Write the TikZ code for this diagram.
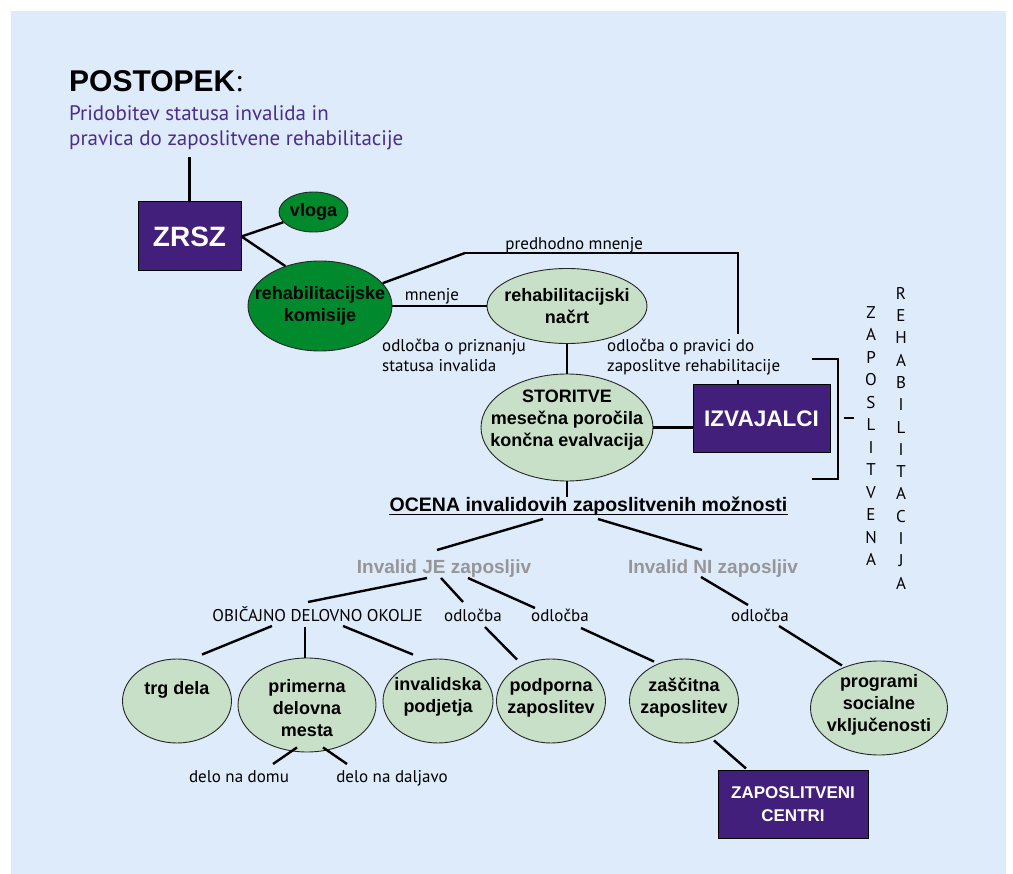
\documentclass[tikz,border=0pt]{standalone}
\usepackage{fontspec}
\setmainfont{PT Sans}
\newfontfamily\heavyfont{Liberation Sans}
\usepackage{tikz}
\usetikzlibrary{shapes.geometric}
\definecolor{bgblue}{RGB}{222,235,251}
\definecolor{dgreen}{RGB}{0,137,45}
\definecolor{lgreen}{RGB}{200,224,200}
\definecolor{boxpurple}{RGB}{66,31,122}
\definecolor{subpurple}{RGB}{75,45,140}
\definecolor{graytxt}{RGB}{150,150,150}
\tikzset{
  lbl/.style={font=\fontsize{17}{20}\selectfont, inner sep=0pt},
  etxt/.style={font=\heavyfont\bfseries\fontsize{18}{22}\selectfont, align=center, inner sep=0pt},
  ell/.style={ellipse, draw=black!85, line width=0.9pt, inner sep=0pt},
  gell/.style={ell, fill=dgreen},
  lell/.style={ell, fill=lgreen},
  box/.style={draw=black, line width=1pt, fill=boxpurple, text=white, align=center, inner sep=0pt},
  gr/.style={anchor=base, inner sep=0pt, text=graytxt, font=\heavyfont\bfseries\fontsize{19}{22}\selectfont},
  cn/.style={line width=2.4pt},
  cnt/.style={line width=1.2pt}
}
\begin{document}
\begin{tikzpicture}[x=1pt, y=-1pt]
  \fill[white] (0,0) rectangle (1013,874);
  \fill[bgblue] (11,11) rectangle (1006,874);
  \useasboundingbox (0,0) rectangle (1013,874);
  % heading
  \node[anchor=base west, inner sep=0pt, font=\fontsize{30}{36}\selectfont] (ttl) at (69,92) {{\heavyfont\bfseries POSTOPEK}:};
  \node[anchor=north west, inner sep=0pt, align=left, text=subpurple, font=\fontsize{21}{25}\selectfont] (sub) at (69,105) {Pridobitev statusa invalida in\\pravica do zaposlitvene rehabilitacije};
  % ZRSZ and commissions
  \node[box, font=\heavyfont\bfseries\fontsize{28}{30}\selectfont, minimum width=103pt, minimum height=69pt] (zrsz) at (189.5,236.5) {ZRSZ};
  \node[gell, minimum width=69pt, minimum height=40pt, label={[etxt]center:vloga}] (vloga) at (313.5,212) {};
  \node[gell, minimum width=144pt, minimum height=90pt, label={[etxt]center:{rehabilitacijske\\komisije}}] (kom) at (320,306) {};
  \node[lell, minimum width=160pt, minimum height=75pt, label={[etxt]center:{rehabilitacijski\\načrt}}] (nac) at (567,306) {};
  \node[lell, minimum width=172pt, minimum height=107pt, label={[etxt, yshift=7pt]center:{STORITVE\\mesečna poročila\\končna evalvacija}}] (sto) at (567,427.5) {};
  \node[box, font=\heavyfont\bfseries\fontsize{22.5}{26}\selectfont, minimum width=137pt, minimum height=68pt] (izv) at (761.5,419) {IZVAJALCI};
  \node[lbl, anchor=north west, align=left, inner ysep=5pt] (odpr) at (382,334) {odločba o priznanju\\statusa invalida};
  \node[lbl, anchor=north west, align=left, inner ysep=5pt] (odp) at (607,334) {odločba o pravici do\\zaposlitve rehabilitacije};
  \coordinate (pm) at (738,253);
  \draw[cn] (zrsz.north) -- ([yshift=-7pt]zrsz.north |- sub.south);
  \draw[cn] (zrsz.east) -- (vloga);
  \draw[cn] (zrsz.east) -- (kom.131);
  \draw[cn] (kom.20) -- (465,253);
  \draw[cnt] (465,253) -- node[lbl, anchor=base, pos=0.4, yshift=3pt] (pmt) {predhodno mnenje} (pm) -- (pm |- odp.north);
  \draw[cnt] (pm |- odp.south) -- (pm |- izv.north);
  \draw[cn] (kom.east) -- node[lbl, anchor=base, pos=0.42, yshift=5pt] (mn) {mnenje} (nac.west);
  \draw[cn] (nac.south) -- (sto.north);
  \draw[cn] (sto.east) -- (izv.west |- sto.east);
  % bracket and vertical words
  \draw[cnt] (812,359) -| (838,479) -- (812,479);
  \draw[line width=1.8pt] (844,418) -- (854,418);
  \node[lbl, anchor=north, align=center, font=\fontsize{17}{22.5}\selectfont] (zap) at (871,306) {Z\\A\\P\\O\\S\\L\\I\\T\\V\\E\\N\\A};
  \node[lbl, anchor=north, align=center, font=\fontsize{17}{22.3}\selectfont] (reh) at (901,287) {R\\E\\H\\A\\B\\I\\L\\I\\T\\A\\C\\I\\J\\A};
  % assessment
  \node[lbl, anchor=base, font=\heavyfont\bfseries\fontsize{19.5}{22}\selectfont] (oce) at (588.5,512) {OCENA invalidovih zaposlitvenih možnosti};
  \draw[line width=1.3pt] ([yshift=-2.5pt]oce.base west) -- ([yshift=-2.5pt]oce.base east);
  \draw[cn] (sto.south) -- (sto.south |- oce.north);
  \node[gr] (je) at (444,574) {Invalid JE zaposljiv};
  \node[gr] (ni) at (713,574) {Invalid NI zaposljiv};
  \draw[cn] ([xshift=-45.5pt,yshift=-7pt]oce.base) -- ([xshift=-7pt,yshift=24pt]je.base);
  \draw[cn] ([xshift=9.5pt,yshift=-7pt]oce.base) -- ([xshift=-11pt,yshift=24pt]ni.base);
  \node[lbl, anchor=base] (oko) at (317.5,622) {OBIČAJNO DELOVNO OKOLJE};
  \node[lbl, anchor=base] (od1) at (473,622) {odločba};
  \node[lbl, anchor=base] (od2) at (560,622) {odločba};
  \node[lbl, anchor=base] (od3) at (760,622) {odločba};
  \draw[cn] ([xshift=-17pt,yshift=-4pt]je.base) -- ([xshift=-9.5pt,yshift=20pt]oko.base);
  \draw[cn] ([xshift=-3pt,yshift=-4pt]je.base) -- ([xshift=-10pt,yshift=20pt]od1.base);
  \draw[cn] ([xshift=24pt,yshift=-4pt]je.base) -- ([xshift=-25pt,yshift=14pt]od2.base);
  \draw[cn] ([xshift=-12pt,yshift=-3pt]ni.base) -- ([xshift=-12pt,yshift=17pt]od3.base);
  % outcomes
  \node[lell, minimum width=109pt, minimum height=84pt, label={[etxt, yshift=11pt]center:trg dela}] (trg) at (177,701) {};
  \node[lell, minimum width=138pt, minimum height=94pt, label={[etxt, yshift=-3pt]center:{primerna\\delovna\\mesta}}] (pri) at (307,705) {};
  \node[lell, minimum width=110pt, minimum height=84pt, label={[etxt, yshift=4pt]center:{invalidska\\podjetja}}] (inv) at (438,701) {};
  \node[lell, minimum width=109pt, minimum height=84pt, label={[etxt, yshift=3pt]center:{podporna\\zaposlitev}}] (pod) at (551,701) {};
  \node[lell, minimum width=109pt, minimum height=84pt, label={[etxt, yshift=3pt]center:{zaščitna\\zaposlitev}}] (zas) at (684,701) {};
  \node[lell, minimum width=137pt, minimum height=94pt, label={[etxt, yshift=3pt]center:{programi\\socialne\\vključenosti}}] (pro) at (879,708) {};
  \node[box, font=\heavyfont\bfseries\fontsize{17}{23}\selectfont, minimum width=150pt, minimum height=68pt] (zc) at (793,804) {ZAPOSLITVENI\\CENTRI};
  \node[lbl, anchor=base] (ddom) at (239,782) {delo na domu};
  \node[lbl, anchor=base] (ddal) at (392,782) {delo na daljavo};
  \draw[cn] ([xshift=-45.5pt,yshift=-4pt]oko.base) -- ([xshift=25pt,yshift=4pt]trg.north);
  \draw[cn] ([xshift=-12.5pt,yshift=-5pt]oko.base) -- ([xshift=-2pt]pri.north);
  \draw[cn] ([xshift=25.5pt,yshift=-4pt]oko.base) -- ([xshift=-25pt,yshift=4pt]inv.north);
  \draw[cn] ([xshift=12pt,yshift=-5pt]od1.base) -- ([xshift=-34pt,yshift=-1pt]pod.north);
  \draw[cn] ([xshift=21pt,yshift=-6pt]od2.base) -- ([xshift=-30pt,yshift=-3pt]zas.north);
  \draw[cn] ([xshift=19pt,yshift=-4pt]od3.base) -- ([xshift=-37pt,yshift=-5pt]pro.north);
  \draw[cn] ([xshift=30pt,yshift=3pt]zas.south) -- ([xshift=-47pt,yshift=1pt]zc.north);
  \draw[cn] ([xshift=-10pt,yshift=5pt]pri.south) -- ([xshift=34pt,yshift=18pt]ddom.base);
  \draw[cn] ([xshift=16pt,yshift=5pt]pri.south) -- ([xshift=-45pt,yshift=18pt]ddal.base);
\end{tikzpicture}
\end{document}
